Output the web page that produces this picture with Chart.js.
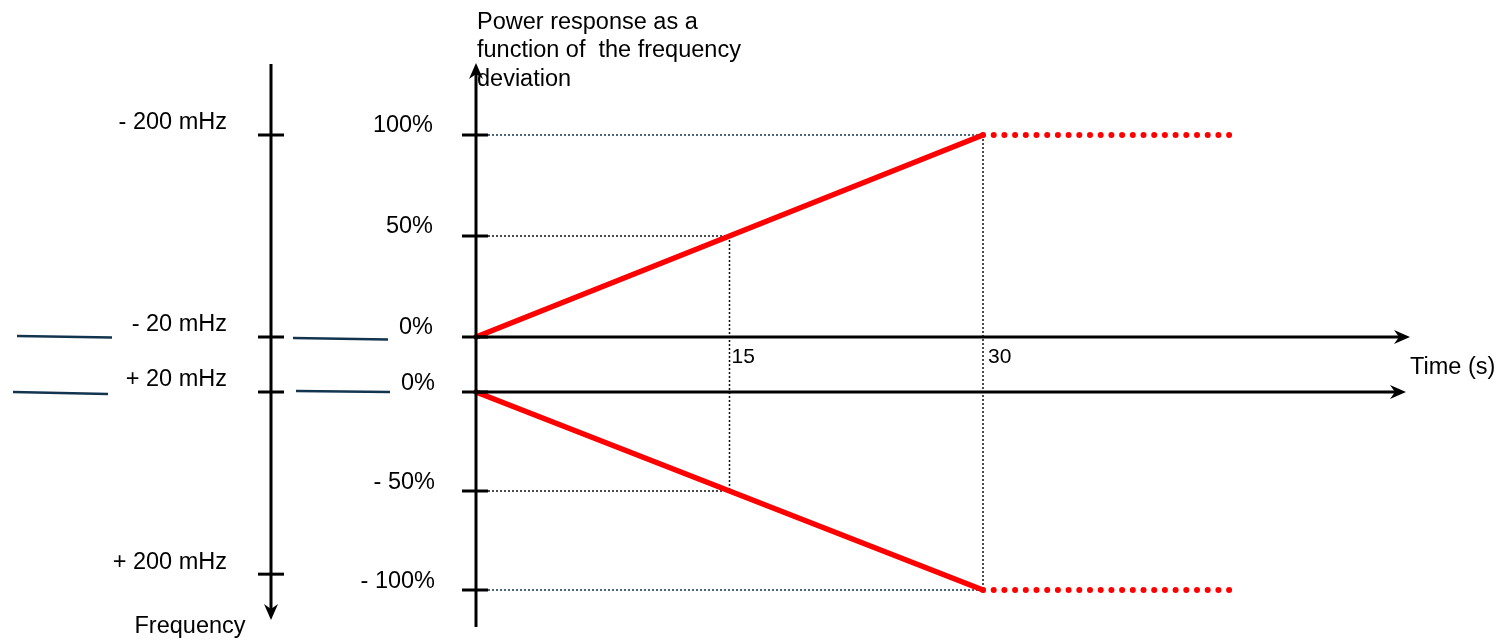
<!DOCTYPE html>
<html>
<head>
<meta charset="utf-8">
<title>Power response vs frequency deviation</title>
<script src="https://cdn.jsdelivr.net/npm/chart.js@4.4.1/dist/chart.umd.min.js"></script>
<style>
  html, body { margin: 0; padding: 0; background: #fff; }
  #wrap { width: 1499px; height: 642px; }
</style>
</head>
<body>
<div id="wrap"><canvas id="chart" width="1499" height="642"></canvas></div>
<script>
// time axis (s)
const timeTicks = [15, 30];
const timeTickLabels = ['15', '30'];
// power response (%): upper panel under-frequency, lower panel over-frequency
const topTicks = [100, 50, 0];
const topTickLabels = ['100%', '50%', '0%'];
const bottomTicks = [0, -50, -100];
const bottomTickLabels = ['0%', '- 50%', '- 100%'];
// red response lines
const rampTime = [0, 30];
const rampTop = [0, 100];
const rampBottom = [0, -100];
const holdTime = [30, 45];
const holdTop = [100, 100];
const holdBottom = [-100, -100];
// dotted guide level reached at each time tick
const guideTop = [50, 100];
const guideBottom = [-50, -100];
// frequency axis on the left, placed against the power levels
const freqLabels = ['- 200 mHz', '- 20 mHz', '+ 20 mHz', '+ 200 mHz'];
const freqPanel = ['top', 'top', 'bottom', 'bottom'];
const freqLevels = [100, 0, 0, -92];

// layout (pixels)
const W = 1499, H = 642;
const originX = 476, px30 = 983;
const topZero = 337, top100 = 135;
const botZero = 392, botM100 = 590;
const secPx = (px30 - originX) / 30;
const topPx = (topZero - top100) / 100;
const botPx = (botM100 - botZero) / 100;

const FONT = '"Liberation Sans", Arial, sans-serif';
const RED = '#ff0000';
const NAVY = '#12344f';

const pts = (xs, ys) => xs.map((x, i) => ({ x: x, y: ys[i] }));

function arrow(ctx, x, y, dir) {
    // dir: 'up' | 'down' | 'right'
    const L = 16, S = 7;
    ctx.beginPath();
    if (dir === 'up') { ctx.moveTo(x, y); ctx.lineTo(x - S, y + L); ctx.lineTo(x, y + L - 5); ctx.lineTo(x + S, y + L); }
    if (dir === 'down') { ctx.moveTo(x, y); ctx.lineTo(x - S, y - L); ctx.lineTo(x, y - L + 5); ctx.lineTo(x + S, y - L); }
    if (dir === 'right') { ctx.moveTo(x, y); ctx.lineTo(x - L, y - S); ctx.lineTo(x - L + 5, y); ctx.lineTo(x - L, y + S); }
    ctx.closePath();
    ctx.fill();
}

function line(ctx, x1, y1, x2, y2) {
    ctx.beginPath();
    ctx.moveTo(x1, y1);
    ctx.lineTo(x2, y2);
    ctx.stroke();
}

const diagram = {
    id: 'diagram',
    beforeDatasetsDraw(chart) {
        const { ctx } = chart;
        const xs = chart.scales.x, yT = chart.scales.yTop, yB = chart.scales.yBot;
        ctx.save();
        ctx.strokeStyle = '#111';
        ctx.lineWidth = 1.5;
        ctx.setLineDash([2, 2]);
        timeTicks.forEach((t, i) => {
            const x = xs.getPixelForValue(t);
            line(ctx, x, yT.getPixelForValue(guideTop[i]), x, yB.getPixelForValue(guideBottom[i]));
        });
        ctx.restore();
    },
    afterDatasetsDraw(chart) {
        const { ctx } = chart;
        const xs = chart.scales.x, yT = chart.scales.yTop, yB = chart.scales.yBot;
        const x0 = xs.getPixelForValue(0);
        const y0T = yT.getPixelForValue(0), y0B = yB.getPixelForValue(0);
        const axisTop = yT.getPixelForValue(100) - 72;
        const axisBottom = yB.getPixelForValue(-100) + 37;
        const fx = x0 - 205;

        ctx.save();
        ctx.fillStyle = '#000';
        ctx.strokeStyle = '#000';
        ctx.lineWidth = 3;
        ctx.lineCap = 'butt';

        // power axis
        line(ctx, x0, axisBottom, x0, axisTop + 8);
        arrow(ctx, x0, axisTop, 'up');
        // time axes
        line(ctx, x0, y0T, x0 + 925, y0T);
        arrow(ctx, x0 + 934, y0T, 'right');
        line(ctx, x0, y0B, x0 + 921, y0B);
        arrow(ctx, x0 + 930, y0B, 'right');

        // power ticks and labels
        ctx.font = '23.5px ' + FONT;
        ctx.textAlign = 'right';
        ctx.textBaseline = 'middle';
        topTicks.forEach((v, i) => {
            const y = yT.getPixelForValue(v);
            line(ctx, x0 - 14, y, x0 + 12, y);
            ctx.fillText(topTickLabels[i], x0 - 43, y - 9);
        });
        bottomTicks.forEach((v, i) => {
            const y = yB.getPixelForValue(v);
            line(ctx, x0 - 14, y, x0 + 12, y);
            ctx.fillText(bottomTickLabels[i], x0 - 41, y - 8);
        });

        // time tick labels
        ctx.font = '21px ' + FONT;
        ctx.textAlign = 'left';
        timeTicks.forEach((t, i) => {
            ctx.fillText(timeTickLabels[i], xs.getPixelForValue(t) + 2 + i * 3, y0T + 20);
        });
        ctx.font = '23.5px ' + FONT;
        ctx.fillText('Time (s)', x0 + 934, y0T + 31);

        // axis title
        ctx.textBaseline = 'alphabetic';
        const tb = yT.getPixelForValue(100);
        ctx.fillText('Power response as a', x0 + 1, tb - 106);
        ctx.fillText('function of  the frequency', x0 + 1, tb - 78);
        ctx.fillText('deviation', x0 + 1, tb - 49);

        // frequency axis
        line(ctx, fx, axisTop + 1, fx, axisBottom - 15);
        arrow(ctx, fx, axisBottom - 7, 'down');
        ctx.textAlign = 'right';
        ctx.textBaseline = 'middle';
        freqLabels.forEach((lab, i) => {
            const y = (freqPanel[i] === 'top' ? yT : yB).getPixelForValue(freqLevels[i]);
            line(ctx, fx - 13, y, fx + 13, y);
            ctx.fillText(lab, fx - 44, y - 12);
        });
        ctx.textAlign = 'center';
        ctx.textBaseline = 'alphabetic';
        ctx.fillText('Frequency', fx - 81, axisBottom + 6);

        // break marks beside the +/-20 mHz levels
        ctx.strokeStyle = NAVY;
        ctx.lineWidth = 2.5;
        const yA = yT.getPixelForValue(freqLevels[1]);
        const yC = yB.getPixelForValue(freqLevels[2]);
        line(ctx, fx - 254, yA - 1, fx - 159, yA + 0.5);
        line(ctx, fx + 22, yA + 1, fx + 117, yA + 2.5);
        line(ctx, fx - 258, yC, fx - 163, yC + 2);
        line(ctx, fx + 25, yC - 1, fx + 119, yC);
        ctx.restore();
    }
};

const redSolid = { borderColor: RED, borderWidth: 5.5, borderCapStyle: 'round', pointRadius: 0, showLine: true };
const redDots = { borderColor: RED, borderWidth: 6, borderCapStyle: 'round', borderDash: [0, 10.7], pointRadius: 0, showLine: true };
const guide = (col) => ({ borderColor: col, borderWidth: 1.5, borderDash: [2, 2], pointRadius: 0, showLine: true });

const datasets = [
    Object.assign({ label: 'ramp up', data: pts(rampTime, rampTop), yAxisID: 'yTop' }, redSolid),
    Object.assign({ label: 'ramp down', data: pts(rampTime, rampBottom), yAxisID: 'yBot' }, redSolid),
    Object.assign({ label: 'hold up', data: pts(holdTime, holdTop), yAxisID: 'yTop' }, redDots),
    Object.assign({ label: 'hold down', data: pts(holdTime, holdBottom), yAxisID: 'yBot' }, redDots)
];
timeTicks.forEach((t, i) => {
    const col = i === timeTicks.length - 1 ? NAVY : '#111';
    datasets.push(Object.assign({ label: 'guide top ' + t, data: pts([0, t], [guideTop[i], guideTop[i]]), yAxisID: 'yTop' }, guide(col)));
    datasets.push(Object.assign({ label: 'guide bottom ' + t, data: pts([0, t], [guideBottom[i], guideBottom[i]]), yAxisID: 'yBot' }, guide(col)));
});

new Chart(document.getElementById('chart').getContext('2d'), {
    type: 'scatter',
    data: { datasets: datasets },
    options: {
        responsive: false,
        animation: false,
        events: [],
        layout: { padding: 0 },
        plugins: { legend: { display: false }, tooltip: { enabled: false }, title: { display: false } },
        scales: {
            x: { type: 'linear', display: false, min: -originX / secPx, max: (W - originX) / secPx },
            yTop: { type: 'linear', display: false, min: -(H - topZero) / topPx, max: topZero / topPx },
            yBot: { type: 'linear', display: false, min: -(H - botZero) / botPx, max: botZero / botPx }
        }
    },
    plugins: [diagram]
});
</script>
</body>
</html>
